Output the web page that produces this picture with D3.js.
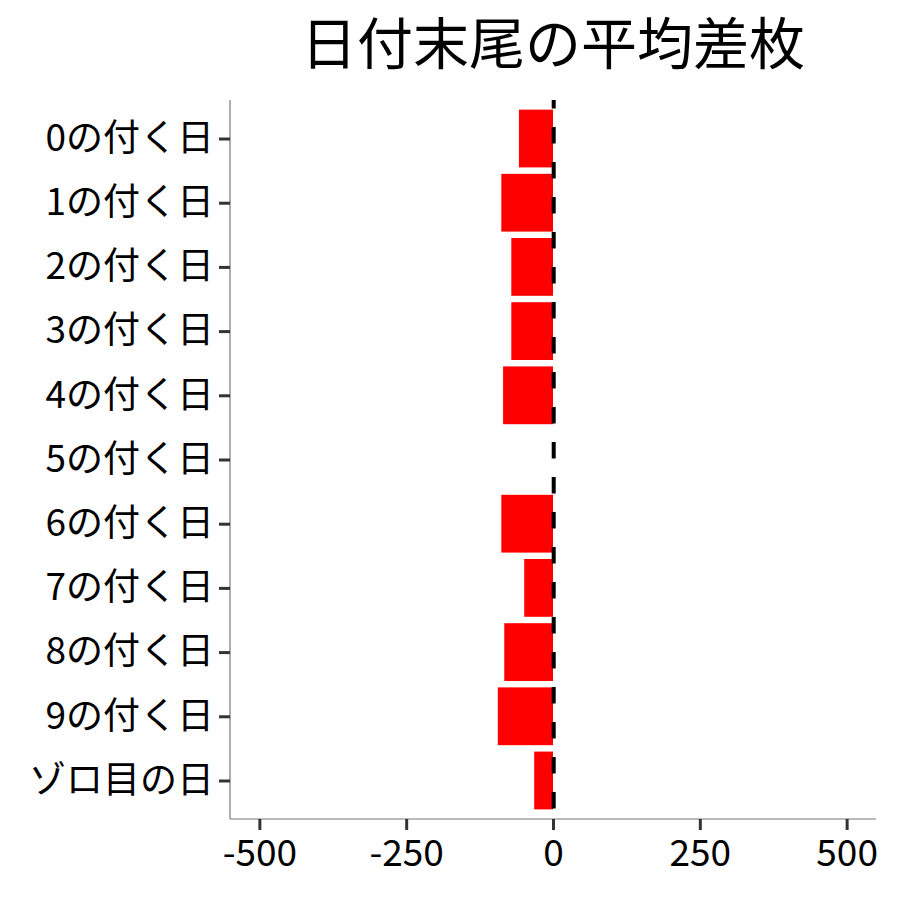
<!DOCTYPE html>
<html>
<head>
<meta charset="utf-8">
<script src="https://cdn.jsdelivr.net/npm/d3@7"></script>
<style>
  body { margin: 0; background: #fff; }
  text { font-family: "Noto Sans CJK JP", "Noto Sans", sans-serif; }
</style>
</head>
<body>
<div id="chart"></div>
<script>
// days by last digit, and the average difference (枚) for each
let days = ['0の付く日', '1の付く日', '2の付く日', '3の付く日', '4の付く日',
  '5の付く日', '6の付く日', '7の付く日', '8の付く日', '9の付く日', 'ゾロ目の日'];
let avgDiff = [-58, -88, -71, -71, -85, 0, -88, -49, -83, -94, -32];
let xTicks = [-500, -250, 0, 250, 500];

let chartTitle = '日付末尾の平均差枚';

let margin = { top: 100, right: 24, bottom: 81, left: 230 },
  width = 900 - margin.left - margin.right,
  height = 900 - margin.top - margin.bottom;

let svg = d3.select('#chart').
append('svg').
attr('width', 900).
attr('height', 900).
append('g').
attr('transform', 'translate(' + margin.left + ',' + margin.top + ')');

// limits -500..500 plus 5% padding, like the original
let x = d3.scaleLinear().
domain([-550, 550]).
range([0, width]);

// discrete axis: 0.6 band of padding at each end
let y = d3.scalePoint().
domain(days).
range([0, height]).
padding(0.6);

let step = y.step();

// bars
svg.selectAll('rect.bar').
data(days).
enter().
append('rect').
attr('class', 'bar').
attr('x', (d, i) => x(Math.min(0, avgDiff[i]))).
attr('width', (d, i) => Math.abs(x(avgDiff[i]) - x(0))).
attr('y', d => y(d) - step * 0.45).
attr('height', step * 0.9).
attr('fill', '#ff0000');

// zero reference line
svg.append('line').
attr('x1', x(0) + 0.7).
attr('x2', x(0) + 0.7).
attr('y1', 0).
attr('y2', height).
attr('stroke', '#000').
attr('stroke-width', 4).
attr('stroke-dasharray', '16.5,18.5').
attr('stroke-dashoffset', 8);

// x axis
let xAxis = svg.append('g').
attr('transform', 'translate(0,' + height + ')').
call(d3.axisBottom(x).tickValues(xTicks).tickSize(11).tickPadding(10).tickFormat(d3.format('d')));

// y axis
let yAxis = svg.append('g').
call(d3.axisLeft(y).tickSize(11).tickPadding(5));

[xAxis, yAxis].forEach(function (a) {
  a.select('.domain').attr('stroke', '#777').attr('stroke-width', 1.2);
  a.selectAll('.tick line').attr('stroke', '#333').attr('stroke-width', 3);
  a.selectAll('.tick text').
  attr('fill', '#000').
  style('font-size', '37px').
  style('font-family', '"Noto Sans CJK JP", sans-serif');
});

// hyphen-minus for negative ticks
xAxis.selectAll('.tick text').text(d => String(d));

// the axis path has end caps; draw plain lines instead
xAxis.select('.domain').attr('d', 'M0,0H' + width);
yAxis.select('.domain').attr('d', 'M0,0V' + height);

// title
svg.append('text').
attr('x', width / 2).
attr('y', -36).
attr('text-anchor', 'middle').
style('font-size', '56px').
style('font-family', '"Noto Sans CJK JP", sans-serif').
attr('fill', '#000').
text(chartTitle);
</script>
</body>
</html>
